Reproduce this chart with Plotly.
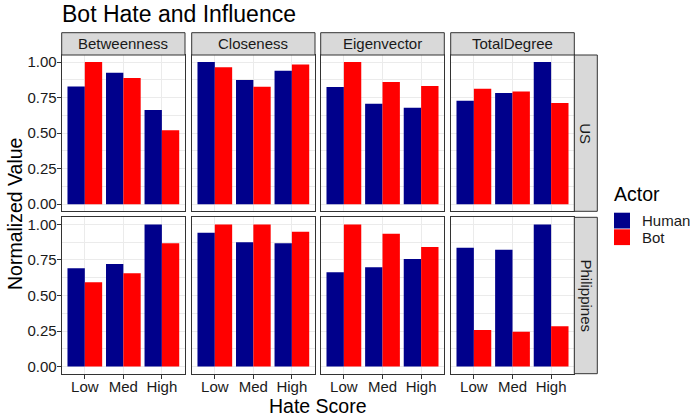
import plotly.graph_objects as go
from plotly.subplots import make_subplots

hate_levels = ["Low", "Med", "High"]
metrics = ["Betweenness", "Closeness", "Eigenvector", "TotalDegree"]
countries = ["US", "Philippines"]
actors = ["Human", "Bot"]

# values per metric (Betweenness, Closeness, Eigenvector, TotalDegree), each Low/Med/High
us_human = [[0.829, 0.925, 0.663], [1.0, 0.874, 0.939], [0.824, 0.707, 0.679], [0.728, 0.782, 1.0]]
us_bot = [[1.0, 0.888, 0.520], [0.963, 0.827, 0.984], [1.0, 0.860, 0.831], [0.813, 0.794, 0.712]]
ph_human = [[0.692, 0.722, 1.0], [0.942, 0.874, 0.867], [0.664, 0.699, 0.757], [0.836, 0.822, 1.0]]
ph_bot = [[0.593, 0.657, 0.867], [1.0, 1.0, 0.949], [1.0, 0.935, 0.841], [0.257, 0.245, 0.283]]

values = {("US", "Human"): us_human, ("US", "Bot"): us_bot,
          ("Philippines", "Human"): ph_human, ("Philippines", "Bot"): ph_bot}
colors = {"Human": "#00008B", "Bot": "#FF0000"}

W, H = 690, 420
FONT = "Liberation Sans, Arial, Helvetica, sans-serif"
TXT = "#1a1a1a"
GRID = "#EBEBEB"
EDGE = "#333333"
STRIP = "#D9D9D9"


def px(x):
    return x / W


def py(y):
    return 1 - y / H


col_px = [(61.7, 185.0), (191.7, 315.0), (320.7, 444.3), (450.7, 574.3)]
row_px = [(55.0, 211.3), (217.3, 373.7)]

fig = make_subplots(rows=2, cols=4)

for r, country in enumerate(countries):
    for c, metric in enumerate(metrics):
        for actor in actors:
            fig.add_trace(go.Bar(
                x=hate_levels, y=values[(country, actor)][c], name=actor,
                marker=dict(color=colors[actor], line=dict(width=0)),
                showlegend=False), row=r + 1, col=c + 1)

fig.update_layout(barmode="group", bargap=0.1, bargroupgap=0)

for r in range(2):
    for c in range(4):
        n = r * 4 + c + 1
        xa = "xaxis" if n == 1 else "xaxis%d" % n
        ya = "yaxis" if n == 1 else "yaxis%d" % n
        x0, x1 = col_px[c]
        y0, y1 = row_px[r]
        fig.layout[xa].update(
            domain=[px(x0), px(x1)], range=[-0.6, 2.6], type="category",
            categoryorder="array", categoryarray=hate_levels, automargin=False,
            showline=True, mirror=True, linecolor=EDGE, linewidth=1,
            showgrid=True, gridcolor=GRID, gridwidth=1, zeroline=False,
            ticks="outside" if r == 1 else "", ticklen=4, tickcolor=EDGE,
            ticklabelstandoff=-5,
            showticklabels=(r == 1), tickfont=dict(size=15, color=TXT, family=FONT))
        fig.layout[ya].update(
            domain=[py(y1), py(y0)], range=[-0.05, 1.05], automargin=False,
            tickvals=[0, 0.25, 0.5, 0.75, 1.0], tickformat=".2f",
            showline=True, mirror=True, linecolor=EDGE, linewidth=1,
            showgrid=True, gridcolor=GRID, gridwidth=1, zeroline=False,
            minor=dict(dtick=0.125, tick0=0.125, showgrid=True, gridcolor=GRID, gridwidth=0.5),
            ticks="outside" if c == 0 else "", ticklen=4, tickcolor=EDGE,
            ticklabelstandoff=-3,
            showticklabels=(c == 0), tickfont=dict(size=15, color=TXT, family=FONT))


def note(text, x, y, size=15, color=TXT, angle=0, xanchor="center"):
    return dict(text=text, xref="paper", yref="paper", x=px(x), y=py(y),
                xanchor=xanchor, yanchor="middle", showarrow=False, textangle=angle,
                font=dict(size=size, color=color, family=FONT))


shapes = []
annotations = []
# column strips
for c, metric in enumerate(metrics):
    x0, x1 = col_px[c]
    shapes.append(dict(type="rect", xref="paper", yref="paper",
                       x0=px(x0), x1=px(x1), y0=py(55.0), y1=py(32.7),
                       fillcolor=STRIP, line=dict(color=EDGE, width=1)))
    annotations.append(note(metric, (x0 + x1) / 2, 43.8))
# row strips
for r, country in enumerate(countries):
    y0, y1 = row_px[r]
    shapes.append(dict(type="rect", xref="paper", yref="paper",
                       x0=px(574.3), x1=px(597.3), y0=py(y1), y1=py(y0),
                       fillcolor=STRIP, line=dict(color=EDGE, width=1)))
    annotations.append(note(country, 586, (y0 + y1) / 2, angle=90))

# axis titles and title
annotations.append(note("Hate Score", 318, 406, size=19.5, color="#000000"))
annotations.append(note("Normalized Value", 15, 214, size=19.5, color="#000000", angle=-90))
annotations.append(note("Bot Hate and Influence", 60, 14, size=23, color="#000000", xanchor="left"))

# legend
annotations.append(note("Actor", 612, 194, size=19.5, color="#000000", xanchor="left"))
for i, actor in enumerate(actors):
    ky0 = 212.7 + i * 16.6
    shapes.append(dict(type="rect", xref="paper", yref="paper",
                       x0=px(614), x1=px(630), y0=py(ky0 + 15.8), y1=py(ky0),
                       fillcolor=colors[actor], line=dict(width=0)))
    annotations.append(note(actor, 640, ky0 + 8, size=15, xanchor="left"))

fig.update_layout(
    width=W, height=H, margin=dict(l=0, r=0, t=0, b=0),
    paper_bgcolor="white", plot_bgcolor="white",
    font=dict(family=FONT, color=TXT),
    shapes=shapes, annotations=annotations)

# drop the page's default body margin so the figure fills the window
fig.write_html("out.html", config={"displayModeBar": False},
               post_script="document.body.style.margin = '0';")
